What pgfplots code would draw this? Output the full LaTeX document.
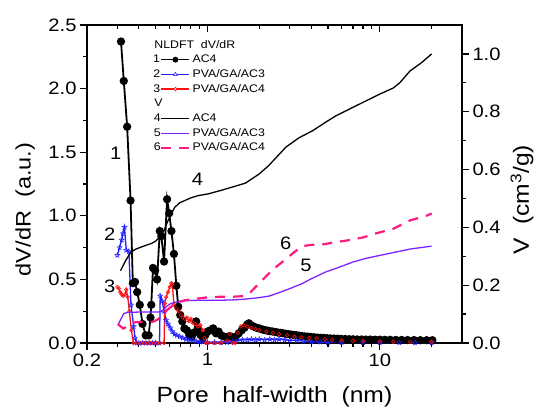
\documentclass[border=0pt]{standalone}
\usepackage{fontspec}
\setmainfont[FakeStretch=1.12]{Liberation Sans}
\usepackage{pgfplots}
\pgfplotsset{compat=1.18}
\usetikzlibrary{plotmarks}

\definecolor{cblue}{HTML}{1F1FFF}
\definecolor{cred}{HTML}{FF1010}
\definecolor{cviolet}{HTML}{7F22FF}
\definecolor{cmag}{HTML}{FF1A80}

% open five-pointed star, as Origin draws it
\pgfdeclareplotmark{ostar}{%
  \pgfpathmoveto{\pgfpointpolar{90}{\pgfplotmarksize}}%
  \pgfpathlineto{\pgfpointpolar{126}{0.45\pgfplotmarksize}}%
  \pgfpathlineto{\pgfpointpolar{162}{\pgfplotmarksize}}%
  \pgfpathlineto{\pgfpointpolar{198}{0.45\pgfplotmarksize}}%
  \pgfpathlineto{\pgfpointpolar{234}{\pgfplotmarksize}}%
  \pgfpathlineto{\pgfpointpolar{270}{0.45\pgfplotmarksize}}%
  \pgfpathlineto{\pgfpointpolar{306}{\pgfplotmarksize}}%
  \pgfpathlineto{\pgfpointpolar{342}{0.45\pgfplotmarksize}}%
  \pgfpathlineto{\pgfpointpolar{18}{\pgfplotmarksize}}%
  \pgfpathlineto{\pgfpointpolar{54}{0.45\pgfplotmarksize}}%
  \pgfpathclose\pgfusepathqstroke}

\newcommand\tfont{\fontsize{18}{18}\selectfont}
\newcommand\lfont{\fontsize{22}{22}\selectfont}

\begin{document}
\begin{tikzpicture}
\path[use as bounding box] (0,0) rectangle (538pt,412pt);

% dV/dR, left axis
\begin{semilogxaxis}[
  scale only axis, width=375pt, height=318pt,
  at={(87pt,69pt)}, anchor=south west, clip=false,
  xmin=0.2, xmax=30,
  xtick={0.2,1,10}, xticklabels={0.2,1,10},
  minor xtick={0.3,0.4,0.5,0.6,0.7,0.8,0.9,2,3,4,5,6,7,8,9,20},
  ymin=0, ymax=2.5, ytick={0,0.5,1,1.5,2,2.5}, minor ytick={0.25,0.75,1.25,1.75,2.25},
  yticklabels={0.0,0.5,1.0,1.5,2.0,2.5},
  tick label style={font=\tfont},
  axis line style={line width=1.1pt},
  tick style={black, line width=1.2pt},
  major tick length=7pt, minor tick length=4pt,
  xtick pos=bottom, ytick pos=left, tick align=outside,
  xlabel={Pore\ \ half-width\ \ (nm)},
  ylabel={dV/dR\ \ (a.u.)},
  label style={font=\lfont},
  xlabel style={at={(axis description cs:0.5,-0.17)},anchor=center},
  ylabel style={font=\fontsize{21}{21}\selectfont,at={(axis description cs:-0.165,0.42)},anchor=center},
  legend style={at={(axis description cs:0.176,0.955)},anchor=north west,
    draw=none, fill=none, font=\fontsize{11}{11}\selectfont,
    row sep=3.7pt, inner sep=0pt, column sep=2pt,
    nodes={inner sep=0pt, text height=8.5pt, text depth=2.5pt}},
  legend cell align=left,
]
% tick marks: out on the bottom and left, in on the top
\pgfplotsinvokeforeach{0.2,1,10}{
  \draw[line width=1.2pt] (axis cs:#1,0) -- ++(0pt,-7pt);
  \draw[line width=1.2pt] (axis cs:#1,2.5) -- ++(0pt,-7pt);}
\pgfplotsinvokeforeach{0.3,0.4,0.5,0.6,0.7,0.8,0.9,2,3,4,5,6,7,8,9,20}{
  \draw[line width=1.2pt] (axis cs:#1,0) -- ++(0pt,-4pt);
  \draw[line width=1.2pt] (axis cs:#1,2.5) -- ++(0pt,-4pt);}
\pgfplotsinvokeforeach{0,0.5,1,1.5,2,2.5}{
  \draw[line width=1.2pt] (axis cs:0.2,#1) -- ++(-7pt,0pt);}
\pgfplotsinvokeforeach{0.25,0.75,1.25,1.75,2.25}{
  \draw[line width=1.2pt] (axis cs:0.2,#1) -- ++(-4pt,0pt);}

\addlegendimage{legend image code/.code={\node[overlay,anchor=west,inner sep=0pt] at (-7.2pt,0pt) {NLDFT\ \ dV/dR};}}
\addlegendentry{}

\addplot[black, line width=1.8pt, mark=*, mark size=3.2pt,
  legend image code/.code={\node[anchor=east,inner sep=0pt] at (-0.5pt,0pt) {1};
    \draw[black, line width=1.5pt] (0pt,0pt) -- (28pt,0pt);
    \fill[black] (14pt,0pt) circle (2pt);}] coordinates {
(0.315,2.37) (0.327,2.06) (0.342,1.70) (0.358,1.12) (0.369,0.47) (0.380,0.48)
(0.391,0.40) (0.405,0.30) (0.420,0.15) (0.438,0.06) (0.456,0.06) (0.467,0.20)
(0.472,0.30) (0.483,0.59) (0.497,0.57) (0.510,0.50) (0.529,0.88) (0.540,0.84)
(0.560,0.64) (0.583,1.13) (0.600,1.02) (0.618,0.88) (0.639,0.70) (0.660,0.45)
(0.677,0.285) (0.695,0.22) (0.715,0.17) (0.735,0.115) (0.76,0.10) (0.785,0.063)
(0.81,0.05) (0.83,0.08) (0.86,0.17) (0.88,0.10) (0.91,0.063) (0.94,0.04)
(0.97,0.06) (1.00,0.09) (1.04,0.10) (1.08,0.115) (1.12,0.076) (1.16,0.09)
(1.20,0.06) (1.25,0.05) (1.30,0.045) (1.35,0.055) (1.40,0.045) (1.46,0.05)
(1.52,0.076) (1.58,0.10) (1.64,0.12) (1.70,0.145) (1.74,0.155) (1.79,0.14)
(1.85,0.13) (1.92,0.12) (1.99,0.115) (2.04,0.11) (2.10,0.105) (2.17,0.10)
(2.24,0.097) (2.31,0.093) (2.39,0.09) (2.47,0.087) (2.55,0.083) (2.64,0.08)
(2.73,0.077) (2.83,0.073) (2.93,0.07) (3.04,0.067) (3.15,0.064) (3.27,0.061)
(3.40,0.058) (3.53,0.055) (3.67,0.052) (3.82,0.05) (3.98,0.048) (4.15,0.045)
(4.33,0.043) (4.52,0.041) (4.72,0.04) (4.94,0.038) (5.17,0.036) (5.42,0.035)
(5.69,0.034) (5.98,0.032) (6.3,0.031) (6.64,0.03) (7.0,0.029) (7.4,0.028)
(7.85,0.028) (8.3,0.027) (8.8,0.027) (9.4,0.026) (10.0,0.026) (10.7,0.025)
(11.5,0.025) (12.4,0.024) (13.4,0.024) (14.5,0.023) (15.8,0.023) (17.2,0.022)
(18.7,0.022) (20.2,0.022)
};
\addlegendentry{AC4}

\addplot[cblue, line width=1.3pt, mark=ostar, mark size=2.6pt, mark options={line width=0.5pt},
  legend image code/.code={\node[anchor=east,inner sep=0pt,black] at (-0.5pt,0pt) {2};
    \draw[cblue, line width=1.3pt] (0pt,0pt) -- (28pt,0pt);
    \draw[cblue, line width=0.5pt, fill=white] (14pt,2.2pt) -- (16pt,-1.3pt) -- (12pt,-1.3pt) -- cycle;}] coordinates {
(0.300,0.69) (0.309,0.75) (0.318,0.81) (0.323,0.86) (0.330,0.91) (0.338,0.73)
(0.350,0.72) (0.360,0.30) (0.373,0.13) (0.380,0.04) (0.388,0.0) (0.40,0.0)
(0.42,0.0) (0.44,0.0) (0.46,0.0) (0.48,0.0) (0.50,0.0) (0.527,0.0)
(0.532,0.37) (0.546,0.33) (0.560,0.25) (0.575,0.18) (0.590,0.15) (0.608,0.12)
(0.625,0.09) (0.645,0.07) (0.665,0.06) (0.69,0.05) (0.72,0.04) (0.75,0.03)
(0.78,0.025) (0.82,0.02) (0.86,0.015) (0.90,0.01) (0.95,0.01) (1.0,0.005)
(1.1,0.005) (1.2,0.005) (1.3,0.005) (1.4,0.01) (1.5,0.02) (1.6,0.025)
(1.7,0.025) (1.8,0.03) (1.9,0.025) (2.0,0.03) (2.15,0.025) (2.3,0.03)
(2.45,0.025) (2.6,0.03) (2.8,0.025) (3.0,0.02) (3.3,0.02) (3.6,0.015)
(4.0,0.01) (4.5,0.008) (5,0.005) (6,0.005) (8,0.004) (10,0.003)
(13,0.003) (16,0.002) (20,0.002)
};
\addlegendentry{PVA/GA/AC3}

\addplot[cred, line width=1.3pt, mark=o, mark size=1.8pt, mark options={line width=0.6pt},
  legend image code/.code={\node[anchor=east,inner sep=0pt,black] at (-0.5pt,0pt) {3};
    \draw[cred, line width=1.3pt] (0pt,0pt) -- (28pt,0pt);
    \draw[cred, line width=0.6pt, fill=white] (14pt,0pt) circle (1.8pt);}] coordinates {
(0.300,0.44) (0.306,0.43) (0.312,0.40) (0.318,0.38) (0.325,0.37) (0.332,0.38)
(0.338,0.42) (0.345,0.36) (0.352,0.25) (0.362,0.10) (0.372,0.0) (0.39,0.0)
(0.41,0.0) (0.43,0.0) (0.45,0.0) (0.47,0.0) (0.49,0.0) (0.51,0.0)
(0.53,0.0) (0.56,0.0) (0.566,0.31) (0.575,0.36) (0.59,0.40) (0.605,0.44)
(0.618,0.47) (0.625,0.46) (0.64,0.30) (0.66,0.27) (0.68,0.25) (0.70,0.22)
(0.72,0.20) (0.74,0.19) (0.76,0.20) (0.78,0.17) (0.80,0.19) (0.82,0.16)
(0.85,0.15) (0.88,0.13) (0.91,0.14) (0.94,0.10) (0.96,0.04) (0.98,0.0)
(1.0,0.0) (1.1,0.0) (1.2,0.0) (1.3,0.02) (1.35,0.07) (1.4,0.0)
(1.45,0.0) (1.5,0.08) (1.56,0.13) (1.62,0.14) (1.7,0.13) (1.8,0.12)
(1.9,0.11) (2.0,0.10) (2.2,0.09) (2.4,0.08) (2.6,0.07) (2.9,0.06)
(3.2,0.05) (3.5,0.045) (3.9,0.04) (4.3,0.035) (4.8,0.03) (5.3,0.025)
(6,0.02) (7,0.018) (8,0.015) (10,0.012) (12,0.01) (15,0.01) (20,0.01)
};
\addlegendentry{PVA/GA/AC4}

\addlegendimage{legend image code/.code={\node[overlay,anchor=west,inner sep=0pt] at (-7.2pt,0pt) {V};}}
\addlegendentry{}
\addlegendimage{legend image code/.code={\node[anchor=east,inner sep=0pt] at (-0.5pt,0pt) {4};
    \draw[black, line width=1.3pt] (0pt,0pt) -- (28pt,0pt);}}
\addlegendentry{AC4}
\addlegendimage{legend image code/.code={\node[anchor=east,inner sep=0pt] at (-0.5pt,0pt) {5};
    \draw[cviolet, line width=1.3pt] (0pt,0pt) -- (28pt,0pt);}}
\addlegendentry{PVA/GA/AC3}
\addlegendimage{legend image code/.code={\node[anchor=east,inner sep=0pt] at (-0.5pt,0pt) {6};
    \draw[cmag, line width=2.2pt, dash pattern=on 10pt off 8pt] (0pt,0pt) -- (28pt,0pt);}}
\addlegendentry{PVA/GA/AC4}

\node[font=\tfont] at (axis cs:0.2937,1.494) {1};
\node[font=\tfont] at (axis cs:0.271,0.857) {2};
\node[font=\tfont] at (axis cs:0.271,0.448) {3};
\node[font=\tfont] at (axis cs:0.874,1.289) {4};
\node[font=\tfont] at (axis cs:3.727,0.613) {5};
\node[font=\tfont] at (axis cs:2.847,0.784) {6};
\end{semilogxaxis}

% cumulative volume, right axis
\begin{semilogxaxis}[
  scale only axis, width=375pt, height=318pt,
  at={(87pt,69pt)}, anchor=south west, clip=false,
  xmin=0.2, xmax=30,
  axis x line=none, axis y line*=right,
  ymin=0, ymax=1.1, ytick={0,0.2,0.4,0.6,0.8,1.0}, minor ytick={0.1,0.3,0.5,0.7,0.9},
  yticklabels={0.0,0.2,0.4,0.6,0.8,1.0},
  tick label style={font=\tfont},
  axis line style={line width=1.1pt},
  tick style={black, line width=1.2pt},
  major tick length=7pt, minor tick length=4pt,
  tick align=outside,
  ylabel={V\ \ (cm\textsuperscript{3}/g)},
  ylabel style={font=\fontsize{22}{22}\selectfont, at={(axis description cs:1.16,0.45)},anchor=center},
]
\pgfplotsinvokeforeach{0,0.2,0.4,0.6,0.8,1.0}{
  \draw[line width=1.2pt] (axis cs:30,#1) -- ++(7pt,0pt);}
\pgfplotsinvokeforeach{0.1,0.3,0.5,0.7,0.9}{
  \draw[line width=1.2pt] (axis cs:30,#1) -- ++(4pt,0pt);}

\addplot[black, line width=1.3pt] coordinates {
(0.313,0.25) (0.335,0.285) (0.36,0.315) (0.385,0.325) (0.413,0.332) (0.44,0.338)
(0.472,0.344) (0.50,0.352) (0.529,0.367) (0.56,0.39) (0.591,0.424) (0.62,0.45)
(0.647,0.47) (0.69,0.485) (0.74,0.493) (0.80,0.502) (0.886,0.51) (1.013,0.516)
(1.2,0.528) (1.387,0.539) (1.662,0.553) (2.0,0.585) (2.27,0.614) (2.846,0.677)
(3.4,0.71) (4.07,0.734) (4.8,0.762) (5.57,0.786) (6.98,0.815) (8.35,0.838)
(10.0,0.861) (11.97,0.882) (13.1,0.901) (14.98,0.941) (17.5,0.97) (20.0,1.0)
};
\addplot[cviolet, line width=1.3pt] coordinates {
(0.302,0.062) (0.327,0.102) (0.345,0.106) (0.40,0.107) (0.45,0.107) (0.50,0.107)
(0.54,0.108) (0.56,0.118) (0.583,0.128) (0.61,0.136) (0.64,0.140) (0.70,0.145)
(0.80,0.147) (0.9,0.148) (1.0,0.148) (1.2,0.148) (1.4,0.149) (1.6,0.151)
(1.8,0.154) (2.0,0.157) (2.27,0.162) (2.6,0.174) (3.0,0.188) (3.56,0.206)
(4.0,0.222) (4.87,0.246) (5.8,0.262) (6.98,0.28) (8.35,0.293) (10,0.303)
(12.5,0.315) (15,0.325) (20,0.335)
};
\addplot[cmag, line width=2.2pt, dash pattern=on 10pt off 8pt] coordinates {
(0.302,0.065) (0.325,0.05) (0.35,0.06) (0.38,0.072) (0.42,0.073) (0.48,0.073)
(0.51,0.08) (0.55,0.095) (0.583,0.114) (0.65,0.137) (0.74,0.148) (0.886,0.154)
(1.0,0.158) (1.2,0.16) (1.4,0.16) (1.6,0.162) (1.74,0.17) (1.99,0.206)
(2.27,0.24) (2.49,0.262) (2.85,0.29) (3.2,0.315) (3.56,0.335) (4.07,0.340)
(4.66,0.341) (5.57,0.349) (6.5,0.355) (7.99,0.365) (9.34,0.378) (11.97,0.395)
(14.98,0.424) (18.8,0.441) (20,0.448)
};
\end{semilogxaxis}
\end{tikzpicture}
\end{document}
